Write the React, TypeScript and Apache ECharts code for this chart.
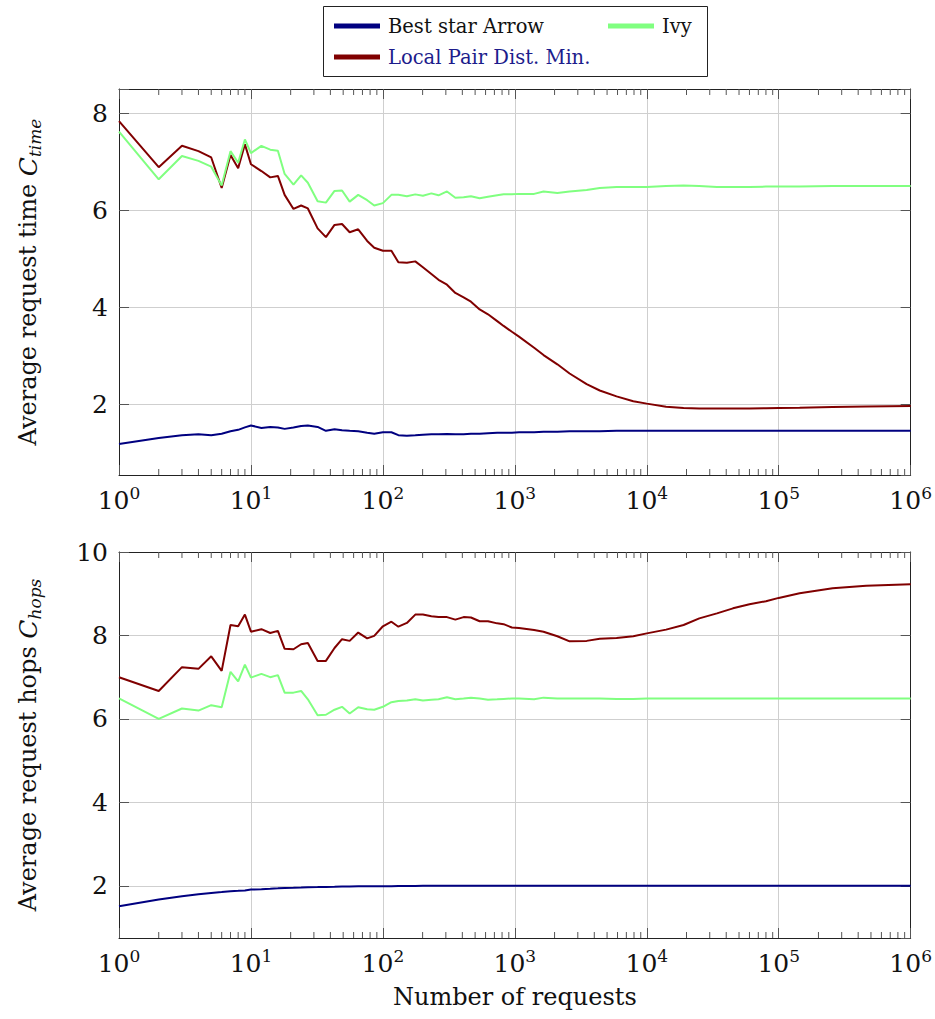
import React, { useEffect, useRef } from "react";
import * as echarts from "echarts";

// Number of requests (x samples, log axis)
const requests = [
  1, 2, 3, 4, 5, 6, 7, 8, 9, 10,
  12, 14, 16, 18, 21, 24, 27,
  32, 37, 43, 49, 56, 65, 76, 86,
  100, 116, 131, 152, 176, 201, 233, 264, 306, 354, 409, 465, 541, 626, 735, 822, 950,
  1075,
  1400, 1650, 2100, 2600, 3500, 4400, 5900, 7900,
  10000, 14000, 19000, 25000, 34000, 45000, 60000, 80000,
  100000, 144000, 256000, 460000, 1000000,
];

// Top panel: average request time
const timeBestStar = [
  1.19, 1.31, 1.37, 1.39, 1.37, 1.40, 1.45, 1.48, 1.53, 1.57,
  1.52, 1.54, 1.53, 1.50, 1.53, 1.56, 1.57,
  1.54, 1.46, 1.49, 1.47, 1.46, 1.45, 1.42, 1.40,
  1.43, 1.43, 1.37, 1.36, 1.37, 1.38, 1.39, 1.39, 1.395, 1.39, 1.39, 1.40, 1.40, 1.41, 1.42, 1.42, 1.42,
  1.43,
  1.43, 1.44, 1.44, 1.45, 1.45, 1.45, 1.46, 1.46,
  1.46, 1.46, 1.46, 1.46, 1.46, 1.46, 1.46, 1.46,
  1.46, 1.46, 1.46, 1.46, 1.46,
];
const timeLocalPair = [
  7.84, 6.89, 7.33, 7.22, 7.09, 6.46, 7.14, 6.87, 7.36, 6.95,
  6.81, 6.68, 6.71, 6.32, 6.03, 6.10, 6.04,
  5.63, 5.45, 5.70, 5.72, 5.55, 5.61, 5.37, 5.23,
  5.17, 5.17, 4.93, 4.92, 4.95, 4.83, 4.69, 4.57, 4.47, 4.30, 4.21, 4.12, 3.96, 3.86, 3.72, 3.62, 3.50,
  3.40,
  3.17, 3.02, 2.83, 2.64, 2.42, 2.29, 2.17, 2.07,
  2.02, 1.955, 1.93, 1.92, 1.92, 1.92, 1.92, 1.925,
  1.93, 1.935, 1.95, 1.96, 1.97,
];
const timeIvy = [
  7.62, 6.64, 7.12, 7.02, 6.90, 6.51, 7.22, 6.98, 7.46, 7.18,
  7.33, 7.25, 7.23, 6.75, 6.53, 6.72, 6.57,
  6.19, 6.16, 6.40, 6.41, 6.18, 6.32, 6.21, 6.10,
  6.15, 6.32, 6.32, 6.29, 6.33, 6.30, 6.35, 6.31, 6.39, 6.26, 6.27, 6.29, 6.25, 6.28, 6.31, 6.33, 6.33,
  6.34,
  6.34, 6.39, 6.36, 6.39, 6.42, 6.46, 6.48, 6.48,
  6.48, 6.50, 6.51, 6.50, 6.48, 6.48, 6.48, 6.49,
  6.49, 6.49, 6.50, 6.50, 6.50,
];

// Bottom panel: average request hops
const hopsBestStar = [
  1.51, 1.67, 1.75, 1.80, 1.83, 1.85, 1.87, 1.88, 1.89, 1.91,
  1.92, 1.93, 1.94, 1.95, 1.955, 1.96, 1.965,
  1.97, 1.975, 1.98, 1.985, 1.985, 1.99, 1.99, 1.99,
  1.99, 1.99, 1.995, 1.995, 1.995, 2.0, 2.0, 2.0, 2.0, 2.0, 2.0, 2.0, 2.0, 2.0, 2.0, 2.0, 2.0,
  2.0,
  2.0, 2.0, 2.0, 2.0, 2.0, 2.0, 2.0, 2.0,
  2.0, 2.0, 2.0, 2.0, 2.0, 2.0, 2.0, 2.0,
  2.0, 2.0, 2.0, 2.0, 2.0,
];
const hopsLocalPair = [
  7.00, 6.67, 7.24, 7.20, 7.50, 7.15, 8.25, 8.22, 8.50, 8.09,
  8.15, 8.06, 8.11, 7.68, 7.67, 7.79, 7.82,
  7.39, 7.39, 7.70, 7.91, 7.87, 8.07, 7.93, 7.99,
  8.22, 8.33, 8.21, 8.30, 8.50, 8.50, 8.46, 8.44, 8.44, 8.38, 8.44, 8.43, 8.34, 8.34, 8.29, 8.27, 8.19,
  8.18,
  8.13, 8.09, 7.98, 7.86, 7.87, 7.92, 7.94, 7.98,
  8.05, 8.14, 8.25, 8.41, 8.53, 8.65, 8.75, 8.82,
  8.90, 9.01, 9.13, 9.19, 9.23,
];
const hopsIvy = [
  6.49, 6.00, 6.25, 6.20, 6.33, 6.28, 7.13, 6.90, 7.30, 6.99,
  7.08, 7.00, 7.05, 6.63, 6.63, 6.67, 6.47,
  6.09, 6.10, 6.22, 6.29, 6.13, 6.28, 6.23, 6.22,
  6.29, 6.40, 6.43, 6.44, 6.47, 6.44, 6.46, 6.47, 6.52, 6.47, 6.49, 6.51, 6.49, 6.46, 6.47, 6.48, 6.49,
  6.49,
  6.47, 6.51, 6.49, 6.49, 6.49, 6.49, 6.48, 6.48,
  6.49, 6.49, 6.49, 6.49, 6.49, 6.49, 6.49, 6.49,
  6.49, 6.49, 6.49, 6.49, 6.49,
];

const seriesNames = ["Best star Arrow", "Local Pair Dist. Min.", "Ivy"];
const seriesColors = ["#000080", "#800000", "#80ff80"];
const minorMultipliers = [2, 3, 4, 5, 6, 7, 8, 9];
const decades = [1, 10, 100, 1000, 10000, 100000];

const FONT = "'DejaVu Serif', serif";
const TEXT = "#111";
const GRID_COLOR = "#cfcfcf";
const TICK_COLOR = "#555";
const AXIS_COLOR = "#222";

const pairs = (ys: number[]) => requests.map((x, i) => [x, ys[i]]);
const minorTicks = decades.flatMap((d) => minorMultipliers.map((m) => [d * m, 1]));

function xAxes(gridIndex: number, withName: boolean) {
  const bottom: any = {
    type: "log",
    logBase: 10,
    gridIndex,
    min: 1,
    max: 1000000,
    position: "bottom",
    axisLine: { show: true, lineStyle: { color: AXIS_COLOR, width: 1 } },
    axisTick: { show: true, inside: true, length: 10, lineStyle: { color: TICK_COLOR } },
    minorTick: { show: false },
    splitLine: { show: true, lineStyle: { color: GRID_COLOR, width: 1 } },
    axisLabel: {
      margin: 9,
      showMinLabel: true,
      showMaxLabel: true,
      formatter: (v: number) => `{b|10}{s|${Math.round(Math.log10(v))}}`,
      rich: {
        b: { fontFamily: FONT, fontSize: 25, lineHeight: 32, color: TEXT },
        s: { fontFamily: FONT, fontSize: 17, lineHeight: 18, verticalAlign: "top", color: TEXT },
      },
    },
  };
  if (withName) {
    bottom.name = "Number of requests";
    bottom.nameLocation = "middle";
    bottom.nameGap = 44;
    bottom.nameTextStyle = { fontFamily: FONT, fontSize: 24, color: TEXT, lineHeight: 30 };
  }
  const top = {
    type: "log",
    logBase: 10,
    gridIndex,
    min: 1,
    max: 1000000,
    position: "top",
    axisLine: { show: true, lineStyle: { color: AXIS_COLOR, width: 1 } },
    axisTick: { show: true, inside: true, length: 10, lineStyle: { color: TICK_COLOR } },
    axisLabel: { show: false },
    splitLine: { show: false },
  };
  return [bottom, top];
}

function yAxes(gridIndex: number, min: number, max: number, title: string) {
  const fmt = (v: number) =>
    Math.abs(v - Math.round(v)) < 1e-9 && Math.round(v) % 2 === 0 ? String(Math.round(v)) : "";
  const left = {
    type: "value",
    gridIndex,
    min,
    max,
    position: "left",
    axisLine: { show: true, lineStyle: { color: AXIS_COLOR, width: 1 } },
    axisTick: { show: true, inside: true, length: 10, lineStyle: { color: TICK_COLOR } },
    splitLine: { show: true, lineStyle: { color: GRID_COLOR, width: 1 } },
    axisLabel: {
      margin: 11,
      showMinLabel: false,
      formatter: fmt,
      fontFamily: FONT,
      fontSize: 25,
      color: TEXT,
    },
    name: title,
    nameLocation: "middle",
    nameGap: 76,
    nameTextStyle: {
      fontFamily: FONT,
      fontSize: 24,
      color: TEXT,
      lineHeight: 30,
      rich: {
        c: { fontFamily: FONT, fontStyle: "italic", fontSize: 25, lineHeight: 30, color: TEXT },
        s: { fontFamily: FONT, fontStyle: "italic", fontSize: 17, lineHeight: 14, verticalAlign: "bottom", color: TEXT },
      },
    },
  };
  const right = {
    type: "value",
    gridIndex,
    min,
    max,
    position: "right",
    axisLine: { show: true, lineStyle: { color: AXIS_COLOR, width: 1 } },
    axisTick: { show: true, inside: true, length: 10, lineStyle: { color: TICK_COLOR } },
    splitLine: { show: false },
    axisLabel: { show: false },
  };
  return [left, right];
}

function lineSeries(name: string, color: string, ys: number[], xAxisIndex: number, yAxisIndex: number) {
  return {
    type: "line",
    name,
    xAxisIndex,
    yAxisIndex,
    data: pairs(ys),
    showSymbol: false,
    symbol: "none",
    lineStyle: { color, width: 2 },
    itemStyle: { color },
    z: 3,
  };
}

function minorTickSeries(xAxisIndex: number, yAxisIndex: number) {
  return {
    type: "custom",
    xAxisIndex,
    yAxisIndex,
    silent: true,
    z: 4,
    data: minorTicks,
    renderItem: (params: any, api: any) => {
      const x = api.coord([api.value(0), api.value(1)])[0];
      const cs = params.coordSys;
      const style = { stroke: TICK_COLOR, lineWidth: 1 };
      return {
        type: "group",
        children: [
          { type: "line", shape: { x1: x, y1: cs.y + cs.height, x2: x, y2: cs.y + cs.height - 6 }, style },
          { type: "line", shape: { x1: x, y1: cs.y, x2: x, y2: cs.y + 6 }, style },
        ],
      };
    },
  };
}

function legendAt(name: string, left: number, top: number, color: string) {
  return {
    data: [{ name, textStyle: { color } }],
    left,
    top,
    orient: "horizontal",
    padding: 0,
    itemGap: 0,
    icon: "rect",
    itemWidth: 46,
    itemHeight: 5,
    selectedMode: false,
    textStyle: { fontFamily: FONT, fontSize: 19.5, color, lineHeight: 26, padding: [0, 0, 0, 3] },
  };
}

export default function App() {
  const ref = useRef<HTMLDivElement>(null);
  useEffect(() => {
    document.body.style.margin = "0";
    if (!ref.current) return;
    const chart = echarts.init(ref.current, undefined, { renderer: "svg" });
    const option: any = {
      animation: false,
      backgroundColor: "#ffffff",
      textStyle: { fontFamily: FONT },
      grid: [
        { left: 119, top: 89, width: 792, height: 386 },
        { left: 119, top: 552, width: 792, height: 386 },
      ],
      xAxis: [...xAxes(0, false), ...xAxes(1, true)],
      yAxis: [
        ...yAxes(0, 0.55, 8.5, "Average request time {c|C}{s|time}"),
        ...yAxes(1, 0.75, 10, "Average request hops {c|C}{s|hops}"),
      ],
      legend: [
        legendAt(seriesNames[0], 334, 13, TEXT),
        legendAt(seriesNames[2], 608, 13, TEXT),
        legendAt(seriesNames[1], 334, 44, "#1c1c8c"),
      ],
      graphic: [
        {
          type: "rect",
          shape: { x: 323.5, y: 6.5, width: 384, height: 70 },
          style: { fill: "rgba(0,0,0,0)", stroke: AXIS_COLOR, lineWidth: 1 },
          silent: true,
        },
      ],
      series: [
        minorTickSeries(0, 0),
        minorTickSeries(2, 2),
        lineSeries(seriesNames[0], seriesColors[0], timeBestStar, 0, 0),
        lineSeries(seriesNames[1], seriesColors[1], timeLocalPair, 0, 0),
        lineSeries(seriesNames[2], seriesColors[2], timeIvy, 0, 0),
        lineSeries(seriesNames[0], seriesColors[0], hopsBestStar, 2, 2),
        lineSeries(seriesNames[1], seriesColors[1], hopsLocalPair, 2, 2),
        lineSeries(seriesNames[2], seriesColors[2], hopsIvy, 2, 2),
      ],
    };
    chart.setOption(option);
    return () => chart.dispose();
  }, []);
  return <div ref={ref} style={{ width: 935, height: 1019 }} />;
}
